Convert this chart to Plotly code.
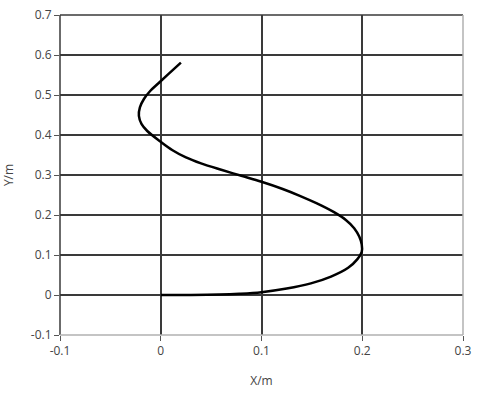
import plotly.graph_objects as go

x_m = [0.0, 0.03, 0.058, 0.078, 0.1, 0.125, 0.149, 0.169, 0.186, 0.195, 0.1995, 0.1995, 0.197, 0.192, 0.184, 0.172, 0.155, 0.138, 0.121, 0.1, 0.08, 0.06, 0.04, 0.025, 0.0117, 0.0, -0.0134, -0.019, -0.0217, -0.0207, -0.0167, -0.0105, -0.002, 0.0075, 0.02]
y_m = [0.0, 0.0, 0.001, 0.003, 0.007, 0.016, 0.029, 0.046, 0.068, 0.089, 0.108, 0.126, 0.146, 0.167, 0.187, 0.207, 0.229, 0.248, 0.265, 0.283, 0.298, 0.313, 0.329, 0.344, 0.362, 0.383, 0.410, 0.427, 0.448, 0.469, 0.490, 0.510, 0.530, 0.552, 0.581]

x_ticks = [-0.1, 0, 0.1, 0.2, 0.3]
y_ticks = [-0.1, 0, 0.1, 0.2, 0.3, 0.4, 0.5, 0.6, 0.7]

grid_col = "#3a3a3a"
font = dict(family="Open Sans, DejaVu Sans, sans-serif", size=12, color="#444444")

fig = go.Figure()
fig.add_trace(go.Scatter(x=x_m, y=y_m, mode="lines", line=dict(color="black", width=2.5, shape="spline", smoothing=1.0), showlegend=False))

axis_common = dict(showgrid=True, gridcolor=grid_col, gridwidth=1.5, zeroline=True, zerolinecolor=grid_col, zerolinewidth=1.5,
                   ticks="outside", ticklen=5, tickcolor="#555555", tickwidth=1, showline=False, tickfont=font,
                   automargin=False)
fig.update_xaxes(range=[-0.1, 0.3], tickvals=x_ticks, ticktext=[str(v) for v in x_ticks],
                 title=dict(text="X/m", font=font, standoff=18), **axis_common)
fig.update_yaxes(range=[-0.1, 0.7], tickvals=y_ticks, ticktext=[str(v) for v in y_ticks],
                 title=dict(text="Y/m", font=font, standoff=18), **axis_common)

shapes = [
    dict(type="line", xref="paper", yref="paper", x0=0, x1=0, y0=0, y1=1, line=dict(color=grid_col, width=1.5)),
    dict(type="line", xref="paper", yref="paper", x0=0, x1=1, y0=1, y1=1, line=dict(color=grid_col, width=1.5)),
    dict(type="line", xref="paper", yref="paper", x0=0, x1=1, y0=0, y1=0, line=dict(color="#b0b0b0", width=1.5)),
    dict(type="line", xref="paper", yref="paper", x0=1, x1=1, y0=0, y1=1, line=dict(color="#b0b0b0", width=1.5)),
]
fig.update_layout(width=489, height=399, margin=dict(l=60, r=26, t=15, b=64),
                  paper_bgcolor="white", plot_bgcolor="white", shapes=shapes, font=font)
fig.write_html("out.html")
